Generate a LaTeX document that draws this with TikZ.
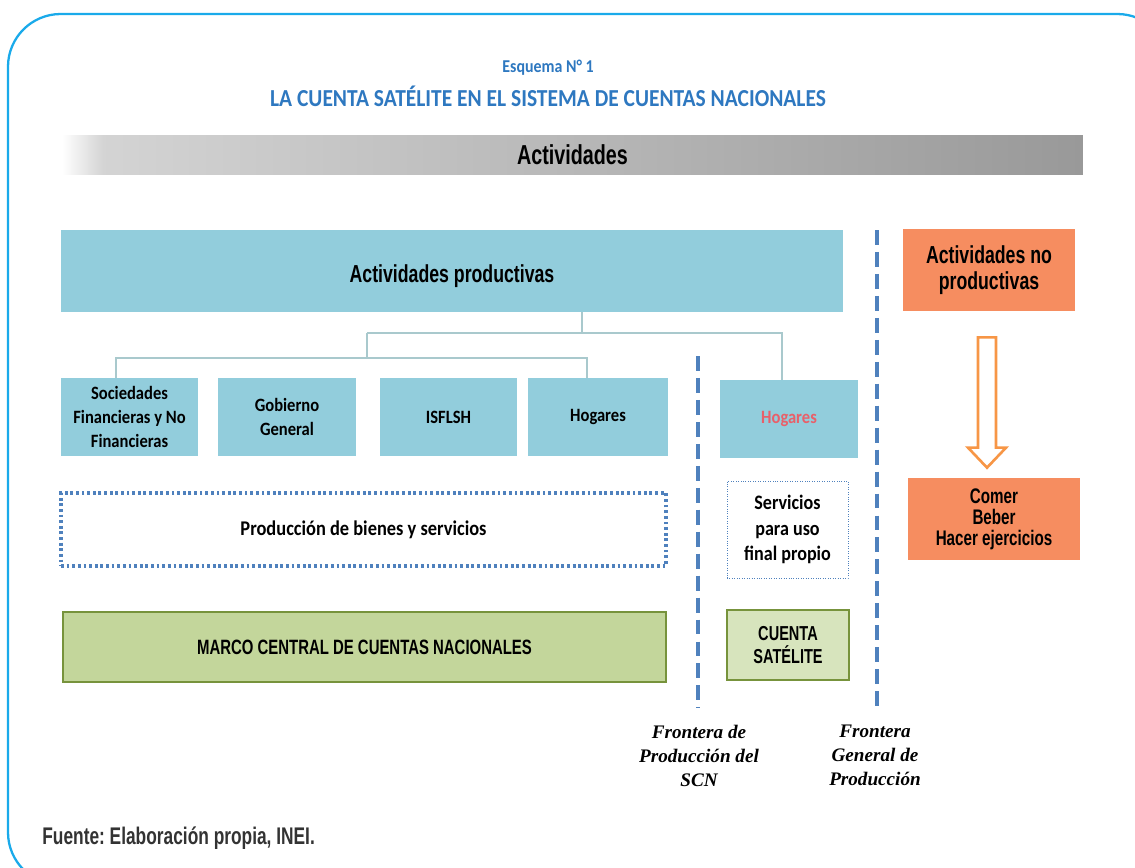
\documentclass[tikz,border=0pt]{standalone}
\usepackage{fontspec}
\setmainfont{Liberation Sans}
\newfontfamily\calfont[FakeStretch=0.88]{Carlito}
\newfontfamily\narrowfont[FakeStretch=0.72]{Liberation Sans}
\newfontfamily\seriffont{Liberation Serif}
\usepackage{xcolor}
\usepackage{tikz}
\usetikzlibrary{calc}
\frenchspacing

\definecolor{frameblue}{HTML}{1AAAEA}
\definecolor{titleblue}{HTML}{2E78C0}
\definecolor{boxblue}{HTML}{92CDDC}
\definecolor{linkgray}{HTML}{A9C9CD}
\definecolor{dashblue}{HTML}{4F81BD}
\definecolor{redtext}{HTML}{E8606A}
\definecolor{greenfill}{HTML}{C3D69B}
\definecolor{greenedge}{HTML}{77933C}
\definecolor{lightgreen}{HTML}{D7E4BD}
\definecolor{orangefill}{HTML}{F68D60}
\definecolor{orangeedge}{HTML}{F79646}
\definecolor{sourcegray}{HTML}{333333}
\pgfdeclarehorizontalshading{bandshade}{100bp}{color(0bp)=(white); color(25bp)=(white); color(27bp)=(black!17); color(75bp)=(black!40); color(100bp)=(black!40)}

\begin{document}
\begin{tikzpicture}[x=0.02cm, y=-0.02cm]
		% Define styles for the blocks and lines
		\tikzstyle{block} = [rectangle, fill=boxblue, text centered, align=center, inner sep=0pt, font={\calfont\bfseries\fontsize{10.7}{13.6}\selectfont}]
		\tikzstyle{bigblock} = [block, font={\narrowfont\bfseries\fontsize{14}{15}\selectfont}]
		\tikzstyle{greenblock} = [rectangle, draw=greenedge, line width=1.6pt, text centered, align=center, font={\narrowfont\bfseries\fontsize{11.8}{13.6}\selectfont}]
		\tikzstyle{orangeblock} = [rectangle, fill=orangefill, text centered, align=center, font={\narrowfont\bfseries\fontsize{12}{12}\selectfont}]
		\tikzstyle{link} = [linkgray, line width=1.2pt]
		\tikzstyle{border} = [dashblue, line width=1.9pt, dash pattern=on 8.5pt off 4pt]
		\tikzstyle{frontera} = [align=center, font={\seriffont\bfseries\itshape\fontsize{10.9}{13.6}\selectfont}]
		\tikzstyle{hollow} = [draw=orangeedge, line width=1.5pt, fill=white]

		\useasboundingbox (0,0) rectangle (1135,868);
		\clip (0,0) rectangle (1135,868);
		\draw[frameblue, line width=1.3pt, rounded corners=30] (8,14) rectangle (1170,885);

		% Title and band
		\node (esquema) [titleblue, font={\calfont\bfseries\fontsize{10.3}{12}\selectfont}] at (548,68) {Esquema N° 1};
		\node (titulo) [titleblue, font={\calfont\bfseries\fontsize{13.9}{15}\selectfont}] at (548,96) {LA CUENTA SATÉLITE EN EL SISTEMA DE CUENTAS NACIONALES};
		\node (band) [shading=bandshade, minimum width=20.42cm, minimum height=0.8cm, inner sep=0pt, font={\narrowfont\bfseries\fontsize{15.6}{15}\selectfont}] at (572.5,155) {Actividades};

		% Define the nodes (blocks)
		\node (prod) [bigblock, minimum width=15.64cm, minimum height=1.64cm, label={[font={\narrowfont\bfseries\fontsize{14}{15}\selectfont}, yshift=-0.1cm]center:Actividades productivas}] at (452,271) {};
		\node (soc) [block, minimum width=2.74cm, minimum height=1.56cm] at (129.5,417) {Sociedades\\Financieras y No\\Financieras};
		\node (gob) [block, minimum width=2.76cm, minimum height=1.56cm] at (287,417) {Gobierno\\General};
		\node (isf) [block, minimum width=2.74cm, minimum height=1.56cm] at (448.5,417) {ISFLSH};
		\node (hog) [block, minimum width=2.8cm, minimum height=1.56cm] at (598,417) {Hogares};
		\node (hogsat) [block, text=redtext, minimum width=2.76cm, minimum height=1.56cm] at (789,419) {Hogares};
		\node (bienes) [block, fill=none, draw=dashblue, line width=1.8pt, dash pattern=on 1.6pt off 1.6pt, minimum width=12.1cm, minimum height=1.46cm, font={\calfont\bfseries\fontsize{11.9}{14}\selectfont}] at (363.5,529.5) {Producción de bienes y servicios};
		\node (servicios) [block, fill=none, draw=dashblue, line width=0.4pt, densely dotted, minimum width=2.42cm, minimum height=1.94cm, font={\calfont\bfseries\fontsize{11.7}{14.3}\selectfont}] at (787.5,529.5) {Servicios\\para uso\\final propio};
		\node (marco) [greenblock, fill=greenfill, minimum width=12.06cm, minimum height=1.4cm] at (364.5,647) {MARCO CENTRAL DE CUENTAS NACIONALES};
		\node (cuenta) [greenblock, fill=lightgreen, minimum width=2.44cm, minimum height=1.4cm, font={\narrowfont\bfseries\fontsize{11.5}{13.6}\selectfont}] at (788,645) {CUENTA\\SATÉLITE};
		\node (noprod) [orangeblock, minimum width=3.44cm, minimum height=1.64cm, font={\narrowfont\bfseries\fontsize{14}{15}\selectfont}] at (989,270) {Actividades no\\productivas};
		\node (comer) [orangeblock, minimum width=3.44cm, minimum height=1.64cm] at (994,519) {Comer\\Beber\\Hacer ejercicios};

		% Production boundaries
		\coordinate (scntop) at (698,356);
		\coordinate (scnbot) at (698,708);
		\coordinate (gentop) at (877,230);
		\coordinate (genbot) at (877,708);
		\draw [border] (scntop) -- (scnbot);
		\draw [border] (gentop) -- (genbot);
		\node (fscn) [frontera, anchor=north] at ($(scnbot)+(1,11)$) {Frontera de\\Producción del\\SCN};
		\node (fgen) [frontera, anchor=north] at ($(genbot)+(-2,11)$) {Frontera\\General de\\Producción};

		% Draw lines between the blocks
		\coordinate (hub) at (582,333);
		\draw [link] (prod.south -| hub) -- (hub);
		\draw [link] (367,333) -| ([xshift=-0.14cm]hogsat.north);
		\draw [link] (367,333) -- (367,358);
		\draw [link] ([xshift=-0.27cm]soc.north) |- (367,358) -| ([xshift=-0.22cm]hog.north);

		% Hollow arrow
		\coordinate (atop) at ($(noprod.south)+(-2,26)$);
		\coordinate (atip) at ($(comer.north)+(-7,-10)$);
		\draw [hollow] ($(atop)+(-9,0)$) -- ($(atop)+(9,0)$) -- ($(atip)+(9,-20)$) -- ($(atip)+(19,-20)$) -- (atip) -- ($(atip)+(-19,-20)$) -- ($(atip)+(-9,-20)$) -- cycle;

		% Source
		\node (fuente) [anchor=west, text=sourcegray, inner sep=0pt, font={\narrowfont\bfseries\fontsize{13.7}{14}\selectfont}] at (42,838) {Fuente: Elaboración propia, INEI.};
	\end{tikzpicture}
\end{document}
